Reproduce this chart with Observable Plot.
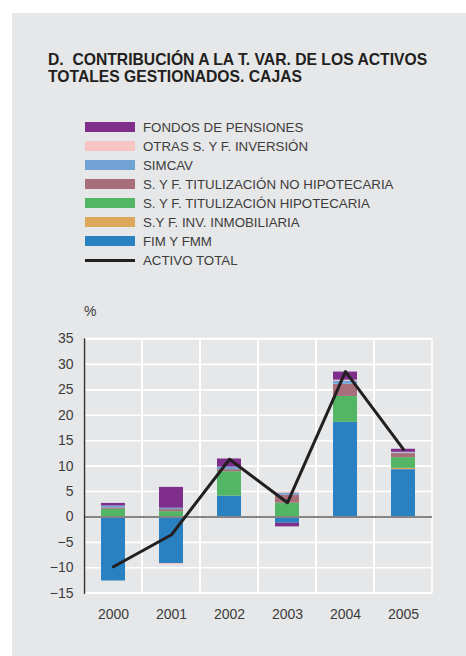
<!DOCTYPE html>
<html>
<head>
<meta charset="utf-8">
<script src="https://cdn.jsdelivr.net/npm/d3@7"></script>
<script src="https://cdn.jsdelivr.net/npm/@observablehq/plot@0.6"></script>
<style>
  body { margin: 0; background: #ffffff; font-family: "Liberation Sans", Arial, sans-serif; }
  #bg { position: absolute; left: 12px; top: 13px; width: 454px; height: 643px; background: #e6e7e8; }
  #title { position: absolute; left: 48px; top: 50.6px; font-size: 15.7px; line-height: 17.7px; font-weight: bold; color: #231f20; white-space: nowrap; }
  #legend { position: absolute; left: 85px; top: 117.6px; }
  .row { display: flex; align-items: center; height: 19px; font-size: 13.3px; line-height: 19px; color: #3c3c3c; white-space: nowrap; }
  .sw { width: 50px; height: 9.5px; margin-right: 8px; flex: none; }
  .ln { width: 50px; height: 3px; margin-right: 8px; background: #231f20; flex: none; }
  #pct { position: absolute; left: 84px; top: 303px; font-size: 14px; color: #3c3c3c; }
  #chart { position: absolute; left: 0; top: 300px; }
</style>
</head>
<body>
<div id="bg"></div>
<div id="title">D.&nbsp; CONTRIBUCIÓN A LA T. VAR. DE LOS ACTIVOS<br>TOTALES GESTIONADOS. CAJAS</div>
<div id="legend"></div>
<div id="pct">%</div>
<div id="chart"></div>
<script>
const years = ["2000", "2001", "2002", "2003", "2004", "2005"];

// Series names (stacking order bottom -> top)
const seriesNames = [
  "FIM Y FMM",
  "S.Y F. INV. INMOBILIARIA",
  "S. Y F. TITULIZACIÓN HIPOTECARIA",
  "S. Y F. TITULIZACIÓN NO HIPOTECARIA",
  "SIMCAV",
  "OTRAS S. Y F. INVERSIÓN",
  "FONDOS DE PENSIONES"
];
const seriesColors = ["#2a81c1", "#dda75c", "#53b664", "#a86f7a", "#71a4d4", "#f6c5c4", "#7f2f8b"];

const fimFmm        = [-12.6, -9.2, 4.1, -1.25, 18.6, 9.3];
const invInmob      = [0, 0, 0, 0, 0, 0.26];
const tituHip       = [1.5, 1.05, 4.8, 2.7, 5.1, 2.1];
const tituNoHip     = [0.26, 0.4, 0.4, 1.6, 2.4, 0.8];
const simcav        = [0.4, 0.26, 0.5, 0.4, 0.6, 0.15];
const otras         = [0, -0.25, 0, 0.2, 0.2, 0.1];
const fondosPension = [0.5, 4.1, 1.6, -0.7, 1.6, 0.6];
const activoTotal   = [-9.8, -3.5, 11.35, 2.8, 28.6, 13.3];

const yTicks = [-15, -10, -5, 0, 5, 10, 15, 20, 25, 30, 35];

const seriesValues = [fimFmm, invInmob, tituHip, tituNoHip, simcav, otras, fondosPension];
const rows = [];
seriesNames.forEach((name, i) => {
  years.forEach((y, j) => rows.push({year: y, series: name, value: seriesValues[i][j]}));
});
const lineRows = years.map((y, j) => ({year: y, value: activoTotal[j]}));

// Legend (reverse order, as in reference)
const legend = document.getElementById("legend");
for (let i = seriesNames.length - 1; i >= 0; i--) {
  const r = document.createElement("div");
  r.className = "row";
  r.innerHTML = `<span class="sw" style="background:${seriesColors[i]}"></span><span>${seriesNames[i]}</span>`;
  legend.appendChild(r);
}
{
  const r = document.createElement("div");
  r.className = "row";
  r.innerHTML = `<span class="ln"></span><span>ACTIVO TOTAL</span>`;
  legend.appendChild(r);
}

const plot = Plot.plot({
  width: 466,
  height: 330,
  marginLeft: 84,
  marginRight: 34,
  marginTop: 38.5,
  marginBottom: 37.3,
  style: {background: "transparent", fontFamily: "\"Liberation Sans\", Arial, sans-serif", fontSize: "14px", color: "#3c3c3c"},
  x: {domain: years, padding: 0, label: null},
  y: {domain: [-15, 35], label: null},
  color: {domain: seriesNames, range: seriesColors},
  marks: [
    Plot.gridY(yTicks, {stroke: "#ffffff", strokeOpacity: 1, strokeWidth: 1.6}),
    Plot.barY(years, {x: d => d, y1: -15, y2: 35, fill: "none", stroke: "#ffffff", strokeWidth: 1.6}),
    Plot.barY(rows, {x: "year", y: "value", fill: "series", order: seriesNames, insetLeft: 17, insetRight: 17}),
    Plot.ruleY([0], {stroke: "#858585", strokeWidth: 2}),
    Plot.line(lineRows, {x: "year", y: "value", stroke: "#231f20", strokeWidth: 3}),
    Plot.axisY(yTicks, {tickSize: 0, tickPadding: 11, fontSize: 14, label: null}),
    Plot.axisX({tickSize: 0, tickPadding: 16, fontSize: 14, label: null}),
    Plot.frame({anchor: "left", stroke: "#333333", strokeWidth: 1.5})
  ]
});
document.getElementById("chart").appendChild(plot);
</script>
</body>
</html>
